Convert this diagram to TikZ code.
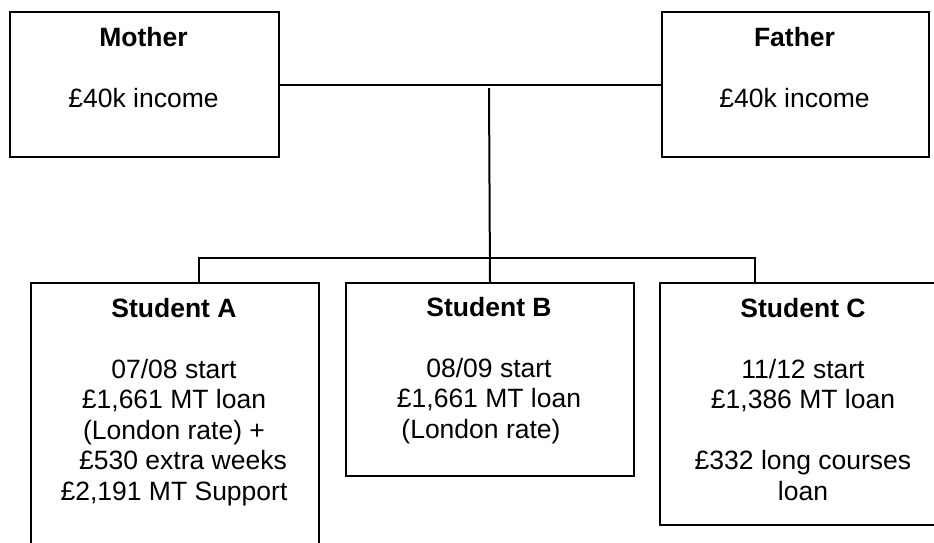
\documentclass[tikz,border=0pt]{standalone}
\usepackage{fontspec}
\setmainfont{Liberation Sans}
\begin{document}
\begin{tikzpicture}[x=1pt,y=-1pt,
  box/.style={draw, line width=2pt, rectangle, inner sep=0pt, anchor=north west},
  boxtext/.style={align=center, inner sep=0pt, anchor=base,
    font=\fontsize{26.5pt}{30.5pt}\selectfont},
  link/.style={line width=2pt}]
\useasboundingbox (0,0) rectangle (934,542);
\clip (0,0) rectangle (934,542);

% parents
\node[box, minimum width=269pt, minimum height=145pt] (mother) at (9,11) {};
\node[box, minimum width=267pt, minimum height=145pt] (father) at (661,11) {};
% text nodes are placed by the baseline of their last line
\node[boxtext] (mothertxt) at (143.5,107) {\textbf{Mother}\\[30.5pt]£40k income};
\node[boxtext] (fathertxt) at (794.5,107) {\textbf{Father}\\[30.5pt]£40k income};

% students
\node[box, minimum width=288pt, minimum height=290pt] (sa) at (30,282) {};
\node[box, minimum width=288pt, minimum height=193pt] (sb) at (345,282) {};
\node[box, minimum width=288pt, minimum height=242pt] (sc) at (659,282) {};
\node[boxtext] (satxt) at (174,500) {\textbf{Student A}\\[30.5pt]07/08 start\\£1,661 MT loan\\(London rate) +\\\hspace*{18pt}£530 extra weeks\\£2,191 MT Support};
\node[boxtext] (sbtxt) at (489,438) {\textbf{Student B}\\[30.5pt]08/09 start\\£1,661 MT loan\\(London rate)\hspace*{16pt}};
\node[boxtext] (sctxt) at (803,500) {\textbf{Student C}\\[30.5pt]11/12 start\\£1,386 MT loan\\[30.5pt]£332 long courses\\loan};

% connectors
\coordinate (stem) at (489,88);
\coordinate (barL) at (199,258);
\coordinate (barR) at (755,258);
\draw[link] (mother.east) -- (father.west);
\draw[link] (stem) -- (sb.north);
\draw[link] (sa.north -| barL) -- (barL) -- (barR) -- (sc.north -| barR);
\end{tikzpicture}
\end{document}
